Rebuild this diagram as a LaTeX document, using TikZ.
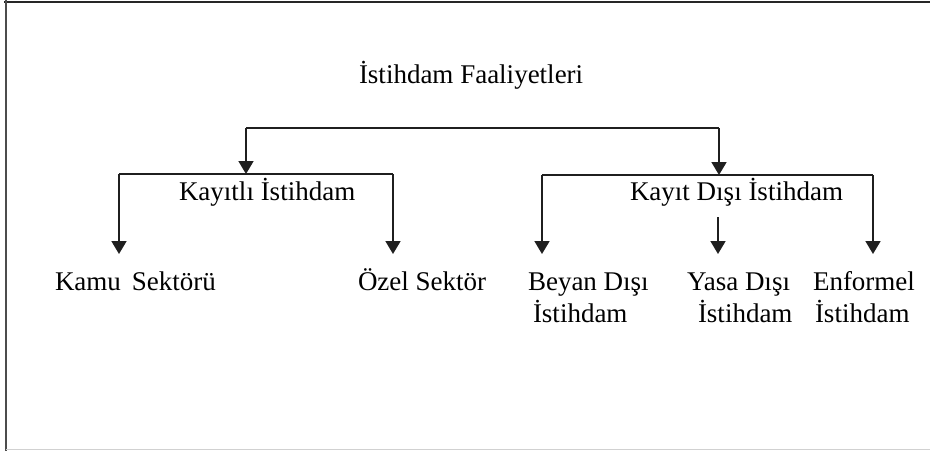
\documentclass[tikz,border=0pt]{standalone}
\usepackage{fontspec}
\setmainfont{Liberation Serif}
\usetikzlibrary{arrows.meta}
\begin{document}
\begin{tikzpicture}[x=1pt,y=-1pt,
  lbl/.style={anchor=base west,inner sep=0pt,outer sep=0pt,font=\fontsize{27}{32}\selectfont,align=left},
  conn/.style={line width=1.8pt,draw=black!88},
  arr/.style={conn,-{Triangle[width=15pt,length=13pt]}}]
\useasboundingbox (0,0) rectangle (930,451);
% frame
\draw[line width=2pt,black!85] (4,1.5) -- (930,1.5);
\draw[line width=2pt,black!70] (5.5,0) -- (5.5,451);
\draw[line width=1.5pt,black!18] (6,449.5) -- (930,449.5);
% labels
\node[lbl] (top) at (359,83) {İstihdam Faaliyetleri};
\node[lbl] (kay) at (179,200) {Kayıtlı İstihdam};
\node[lbl] (kdi) at (630,200) {Kayıt Dışı İstihdam};
\node[lbl] (kamu) at (55,290) {Kamu\hspace{11pt}Sektörü};
\node[lbl] (ozel) at (358,290) {Özel Sektör};
\node[lbl] (beyan) at (528,322) {Beyan Dışı\\\hspace{5pt}İstihdam};
\node[lbl] (yasa) at (687,322) {Yasa Dışı\\\hspace{11pt}İstihdam};
\node[lbl] (enf) at (813,322) {Enformel\\\hspace{2pt}İstihdam};
% junction coordinates
\coordinate (tl) at (246,128);
\coordinate (tr) at (719,128);
\coordinate (kt) at (246,174);
\coordinate (dt) at (719,175);
\coordinate (kl) at (119,174);
\coordinate (kr) at (393,174);
\coordinate (dl) at (542,175);
\coordinate (dr) at (873,175);
\coordinate (dm) at (718,217);
\coordinate (akamu) at (119,254);
\coordinate (aozel) at (393,254);
\coordinate (abeyan) at (542,254);
\coordinate (ayasa) at (718,254);
\coordinate (aenf) at (873,254);
% connectors
\draw[conn] (tl) -- (tr);
\draw[arr] (tl) -- (kt);
\draw[arr] (tr) -- (dt);
\draw[conn] (kl) -- (kr);
\draw[conn] (dl) -- (dr);
\draw[arr] (kl) -- (akamu);
\draw[arr] (kr) -- (aozel);
\draw[arr] (dl) -- (abeyan);
\draw[arr] (dm) -- (ayasa);
\draw[arr] (dr) -- (aenf);
\end{tikzpicture}
\end{document}
